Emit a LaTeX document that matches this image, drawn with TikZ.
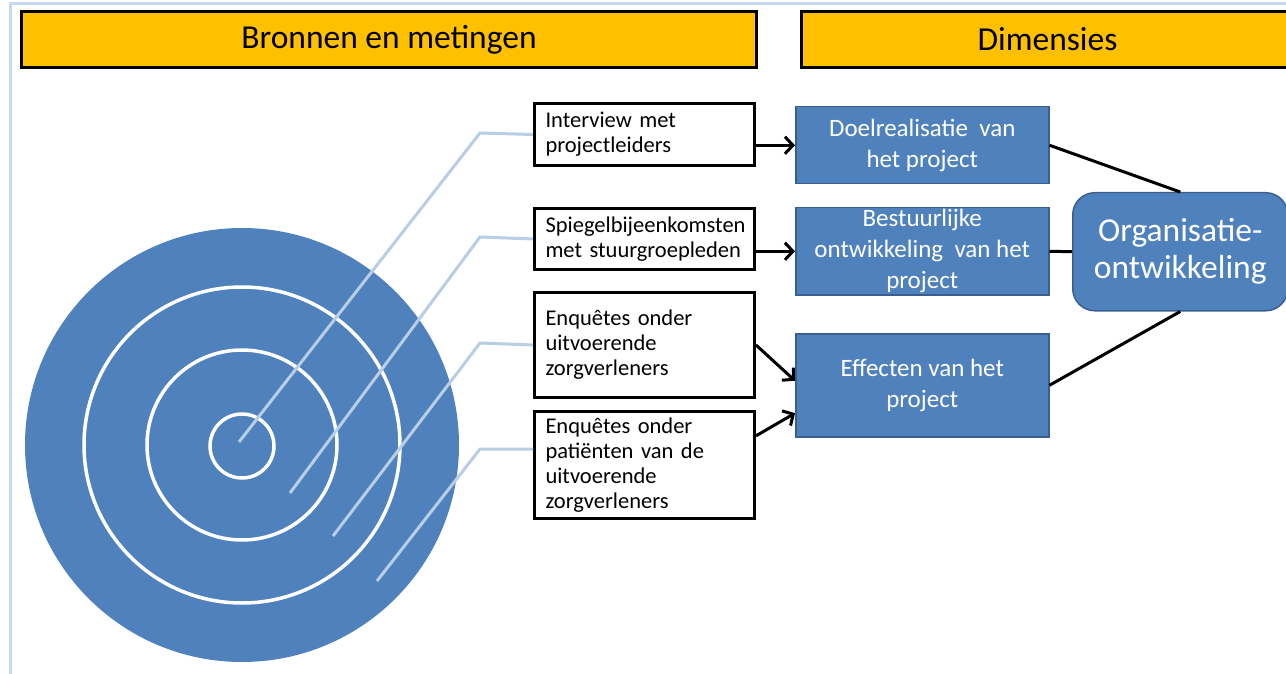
\documentclass[tikz,border=0pt]{standalone}
\usepackage{fontspec}
\setmainfont{Carlito}
\usetikzlibrary{arrows.meta,calc}
\definecolor{hdrfill}{HTML}{FFC000}
\definecolor{tgtblue}{HTML}{4F81BD}
\definecolor{dimborder}{HTML}{3A5F8E}
\definecolor{guide}{HTML}{B9CDE5}
\definecolor{framecol}{HTML}{C6D9F1}
\begin{document}
\begin{tikzpicture}[x=1pt,y=-1pt,
  hdr/.style={draw=black, line width=3pt, fill=hdrfill, anchor=north west, inner sep=0pt,
    minimum height=56pt, font=\fontsize{33.5pt}{40pt}\selectfont},
  srcbox/.style={draw=black, line width=3pt, fill=white, anchor=north west,
    inner xsep=11pt, inner ysep=1pt, text width=198pt, align=left, minimum width=220pt,
    font=\fontsize{22.5pt}{25pt}\selectfont},
  dimbox/.style={draw=dimborder, line width=1.5pt, fill=tgtblue, text=white, anchor=north west,
    inner xsep=4pt, inner ysep=0pt, align=center, minimum width=253pt,
    font=\fontsize{25pt}{31pt}\selectfont},
  orgbox/.style={draw=dimborder, line width=1.5pt, fill=tgtblue, text=white, anchor=north west,
    rounded corners=22pt, inner sep=0pt, align=center, minimum width=215pt, minimum height=118pt,
    font=\fontsize{33.5pt}{37pt}\selectfont},
  guideline/.style={draw=guide, line width=3pt},
  ring/.style={draw=white, line width=3.5pt},
  arr/.style={draw=black, line width=3pt, -{Straight Barb[length=8pt,width=17pt,line width=3pt]}},
  link/.style={draw=black, line width=3pt}
]
\useasboundingbox (0,0) rectangle (1286,674);
% frame
\draw[framecol, line width=3pt] (10,680) -- (10,4) -- (1292,4);
% headers
\node[hdr, minimum width=735pt] (hdrL) at (20,10) {Bronnen en metingen};
\node[hdr, minimum width=492pt] (hdrR) at (800,10) {Dimensies};
% target
\fill[tgtblue] (242,445) circle[radius=217pt];
\draw[ring] (242,445) circle[radius=158pt];
\draw[ring] (242,445) circle[radius=95pt];
\draw[ring] (242,446) circle[radius=32pt];
% source boxes
\node[srcbox, minimum height=62pt] (s1) at (533,102) {Interview met\\projectleiders};
\node[srcbox, minimum height=61pt] (s2) at (533,207) {Spiegelbijeenkomsten\\met stuurgroepleden};
\node[srcbox, minimum height=105pt] (s3) at (533,291) {Enquêtes onder\\uitvoerende\\zorgverleners};
\node[srcbox, minimum height=107pt] (s4) at (533,410) {Enquêtes onder\\patiënten van de\\uitvoerende\\zorgverleners};
% dimension boxes
\node[dimbox, minimum height=77pt] (d1) at (795,106) {Doelrealisatie~~van\\het project};
\node[dimbox, minimum height=87pt] (d2) at (795,207) {Bestuurlijke\\ontwikkeling~~van het\\project};
\node[dimbox, minimum height=103pt] (d3) at (795,333) {Effecten van het\\project};
\node[orgbox] (org) at (1072,192) {Organisatie-\\ontwikkeling};
% guide lines
\coordinate (g1b) at (480,133);
\coordinate (g1e) at (239,442);
\coordinate (g2b) at (480,237);
\coordinate (g2e) at (290,493);
\coordinate (g3b) at (480,343);
\coordinate (g3e) at (333,536);
\coordinate (s4w) at ($(s4.north west)!0.355!(s4.south west)$);
\coordinate (g4b) at (480,448);
\coordinate (g4e) at (377,581);
\draw[guideline] (s1.west) -- (g1b) -- (g1e);
\draw[guideline] (s2.west) -- (g2b) -- (g2e);
\draw[guideline] (s3.west) -- (g3b) -- (g3e);
\draw[guideline] (s4w) -- (s4w -| g4b) -- (g4e);
% arrows
\draw[arr] (s1.east |- d1.west) -- (d1.west);
\draw[arr] (s2.east |- d2.west) -- (d2.west);
\coordinate (d3a) at ($(d3.north west)!0.457!(d3.south west)$);
\coordinate (d3b) at ($(d3.north west)!0.767!(d3.south west)$);
\coordinate (s4e) at ($(s4.north east)!0.235!(s4.south east)$);
\draw[arr] (s3.east) -- (d3a);
\draw[arr] (s4e) -- (d3b);
% links to organisation
\draw[link] (d1.east) -- (org.north);
\draw[link] (d2.east) -- (org.west);
\draw[link] (d3.east) -- (org.south);
\end{tikzpicture}
\end{document}
